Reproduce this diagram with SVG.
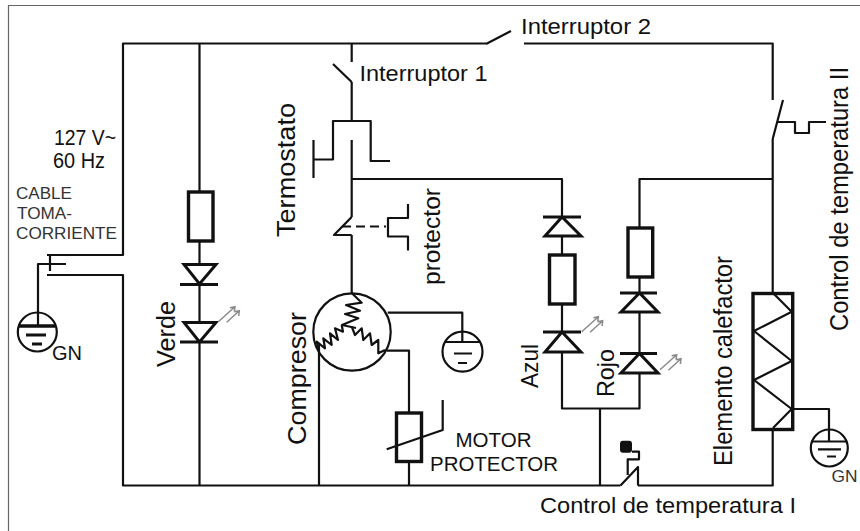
<svg xmlns="http://www.w3.org/2000/svg" width="860" height="531" viewBox="0 0 860 531">
<defs>
<style>
.w{fill:none;stroke:#111;stroke-width:2.200;stroke-linejoin:round}
.b{fill:none;stroke:#111;stroke-width:3.400}
.d{fill:none;stroke:#111;stroke-width:3}
.g{fill:none;stroke:#8a8a8a;stroke-width:1.500}
text{font-family:"Liberation Sans",Arial,sans-serif;fill:#111;font-size:22px}
.s{font-size:17px;fill:#333}
</style>
<path id="led" class="g" d="M218.300 321.700L235 306.700M230 307.700L235 306.700L234.300 311.700M226.700 322.300L239.300 310.700M234.300 311.700L239.300 310.700L238.700 316"/>
</defs>
<rect width="860" height="531" fill="#fff"/>
<path d="M8.500 531V5.500H860" fill="none" stroke="#666" stroke-width="1.200"/>
<g id="connectors">
<path class="w" d="M47 255H123V43.500H486M524 43.500H772.700V100"/>
<path class="w" d="M47 275H123V485.500H620.500M638 485.500H772.700V430"/>
<path class="w" d="M199.500 44V192M199.500 241V264M199.500 284V322M199.500 342V485"/>
<path class="w" d="M351.700 44V62M351.700 82V121M351.700 140V217M351.700 235V293"/>
<path class="w" d="M351.700 179H562V217M562 236V255M562 304V332M562 352V408.500H639.500V373M639.500 353V312M639.500 293V277M639.500 228V179H772.700"/>
<path class="w" d="M600 408.500V485M319 345V485M409 461V485"/>
<path class="w" d="M387.700 312.700H462.300V342M386.700 350.700H409V413"/>
<path class="w" d="M772.700 139V293M793 409H829V428"/>
<path class="w" stroke-dasharray="9 5" d="M342 226.500H386"/>
</g>
<g id="switch1"><path class="w" d="M333 64L351.700 82"/></g>
<g id="switch2"><path class="w" d="M486 44L511 31"/></g>
<g id="switch-temp2"><path class="w" d="M772.700 139L783 100M777 122H795V133H809V122H826"/></g>
<g id="termostato"><path class="w" d="M313.500 140V178M313.500 159.500H333V121H370.700V161H390"/></g>
<g id="switch-protector"><path class="w" d="M351.700 217L334 235H351.700"/></g>
<g id="protector"><path class="w" d="M408 204V218H388V236.500H408V250.500"/></g>
<g id="plug"><path class="w" d="M50 255V271M38 325V264H66"/></g>
<g id="gnd1"><circle class="w" cx="37.300" cy="332" r="19.500"/><path fill="none" stroke="#111" stroke-width="3.500" d="M18.500 326H55.500"/><path class="d" d="M26 335H46M32 344H42"/></g>
<g id="r-verde"><rect class="b" x="188.500" y="192" width="24.500" height="49"/></g>
<g id="d1-verde"><path class="d" d="M184 264.500H216L199.500 284ZM180 284.500H218"/></g>
<g id="d2-verde"><path class="d" d="M184 322.500H216L199.500 342ZM180 342H218"/></g>
<g id="led-verde"><use href="#led"/></g>
<g id="compresor">
<circle class="w" cx="352" cy="332" r="38.700"/>
<path class="w" d="M351.700 293L361.700 302.700L346 305L360 310.700L345 314L358.300 318.300L342 325L356 328"/>
<path class="w" d="M341.700 325L343 331.700L335 328.300L338 340L330 333.300L331.700 345L323.300 338.300L325 348.300L316.700 341.700L318.300 348"/>
<path class="w" d="M351.700 326.700L355 335L361.700 328.300L363.300 340L370 333.300L371.700 345L378.300 340L378.300 353.300L385 350"/>
</g>
<g id="gnd2"><circle class="w" cx="462.500" cy="351.700" r="20"/><path class="w" d="M444 342H481M454 353.500H472M458 363H467"/></g>
<g id="r-motor"><rect class="b" x="396.500" y="413" width="25" height="48.500"/><path class="w" d="M386.700 449.300L442.700 430V400"/></g>
<g id="d-azul1"><path class="d" d="M543 217H581M562 217L545 236H581Z"/></g>
<g id="r-azul"><rect class="b" x="549.500" y="255" width="25.500" height="49"/></g>
<g id="d-azul2"><path class="d" d="M543 332H581M562 332L545 352H581Z"/></g>
<g id="led-azul"><use href="#led" transform="translate(363.400 10)"/></g>
<g id="r-rojo"><rect class="b" x="628" y="228" width="24.700" height="49"/></g>
<g id="d-rojo1"><path class="d" d="M620 293H657M639.500 293L621 312H658Z"/></g>
<g id="d-rojo2"><path class="d" d="M620 353.500H657M639.500 353.500L621 373H658Z"/></g>
<g id="led-rojo"><use href="#led" transform="translate(441.700 48)"/></g>
<g id="calefactor"><rect class="b" x="753" y="293.500" width="39.700" height="136"/><path class="w" d="M773 293L791.700 311.700L754 331L791.700 361L754 380L791.700 409L773 428"/></g>
<g id="gnd3"><circle class="w" cx="829.300" cy="448" r="18.500"/><path class="w" d="M829 428V441.500M811.500 441.500H847M818 449.300H841M827 456.500H836"/></g>
<g id="control1"><rect x="620" y="440.700" width="12" height="12" rx="3" fill="#111"/><path class="w" d="M632 451.700H639V459.300H627.700V475M620.500 485.500L638 467V485.500"/></g>
<g id="labels">
<text x="521" y="34" textLength="130" lengthAdjust="spacingAndGlyphs">Interruptor 2</text>
<text x="359.500" y="81.300" textLength="128" lengthAdjust="spacingAndGlyphs">Interruptor 1</text>
<text x="54" y="145" textLength="62" lengthAdjust="spacingAndGlyphs">127 V~</text>
<text x="53" y="168" textLength="52" lengthAdjust="spacingAndGlyphs">60 Hz</text>
<text class="s" x="16" y="199" textLength="56" lengthAdjust="spacingAndGlyphs">CABLE</text>
<text class="s" x="17" y="219" textLength="55" lengthAdjust="spacingAndGlyphs">TOMA-</text>
<text class="s" x="16" y="239" textLength="101" lengthAdjust="spacingAndGlyphs">CORRIENTE</text>
<text x="52" y="360" style="font-size:20px" textLength="30" lengthAdjust="spacingAndGlyphs">GN</text>
<text class="s" x="831.500" y="481.700" textLength="26" lengthAdjust="spacingAndGlyphs">GN</text>
<text x="455.500" y="446.700" style="font-size:20px" textLength="76" lengthAdjust="spacingAndGlyphs">MOTOR</text>
<text x="430" y="470.700" style="font-size:20px" textLength="128" lengthAdjust="spacingAndGlyphs">PROTECTOR</text>
<text x="540" y="512.700" textLength="256" lengthAdjust="spacingAndGlyphs">Control de temperatura I</text>
<text transform="translate(295 237) rotate(-90)" style="font-size:26px" textLength="134" lengthAdjust="spacingAndGlyphs">Termostato</text>
<text transform="translate(175 367) rotate(-90)" style="font-size:25px" textLength="66" lengthAdjust="spacingAndGlyphs">Verde</text>
<text transform="translate(305.700 445) rotate(-90)" style="font-size:26px" textLength="133" lengthAdjust="spacingAndGlyphs">Compresor</text>
<text transform="translate(440 285) rotate(-90)" style="font-size:24px" textLength="97" lengthAdjust="spacingAndGlyphs">protector</text>
<text transform="translate(537.700 388) rotate(-90)" style="font-size:24px" textLength="44" lengthAdjust="spacingAndGlyphs">Azul</text>
<text transform="translate(614 397) rotate(-90)" style="font-size:24px" textLength="48" lengthAdjust="spacingAndGlyphs">Rojo</text>
<text transform="translate(731.700 466) rotate(-90)" style="font-size:25px" textLength="210" lengthAdjust="spacingAndGlyphs">Elemento calefactor</text>
<text transform="translate(848 331) rotate(-90)" style="font-size:25px" textLength="264" lengthAdjust="spacingAndGlyphs">Control de temperatura II</text>
</g>
</svg>
